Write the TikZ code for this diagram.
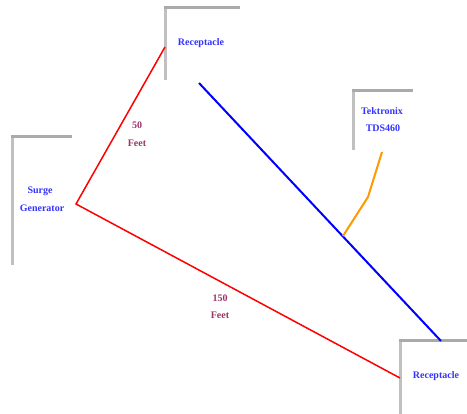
\documentclass[tikz,border=0pt]{standalone}
\usepackage{fontspec}
\setmainfont{Liberation Serif}
\definecolor{labelblue}{RGB}{51,51,255}
\definecolor{feetred}{RGB}{153,51,102}
\definecolor{framegray}{RGB}{192,192,192}
\definecolor{frametop}{RGB}{170,170,170}
\definecolor{probeorange}{RGB}{255,153,0}
\begin{document}
\begin{tikzpicture}[x=1pt, y=-1pt,
        place/.style={font=\bfseries\fontsize{10}{12}\selectfont, text=labelblue, inner sep=0pt},
        dist/.style={font=\bfseries\fontsize{10}{12}\selectfont, text=feetred, inner sep=0pt},
        side/.style={line width=3pt, framegray},
        top/.style={line width=3pt, frametop}]
        \useasboundingbox (0,0) rectangle (467,414);

        % Frames
        \draw[side] (165,8) -- (165,80);
        \draw[top] (164,8) -- (240,8);
        \draw[side] (12,137) -- (12,265);
        \draw[top] (11,137) -- (72,137);
        \draw[side] (353,91) -- (353,150);
        \draw[top] (352,91) -- (413,91);
        \draw[side] (400,341) -- (400,414);
        \draw[top] (399,341) -- (467,341);

        % Labels
        \node[place] (recA) at (201,43) {Receptacle};
        \node[place] (surge) at (40,191) {Surge};
        \node[place] (gen) at (42,208) {Generator};
        \node[place] (tek) at (382,111) {Tektronix};
        \node[place] (tds) at (383,128) {TDS460};
        \node[place] (recB) at (436,376) {Receptacle};
        \node[dist] (fifty) at (137,125) {50};
        \node[dist] (fiftyft) at (137,143) {Feet};
        \node[dist] (onefifty) at (220,298) {150};
        \node[dist] (onefiftyft) at (220,315) {Feet};

        % Cable ends
        \coordinate (src) at (76,204);
        \coordinate (inA) at (165,47);
        \coordinate (inB) at (400,378);
        \coordinate (bA) at (199,83);
        \coordinate (bB) at (441,341);
        \coordinate (probe) at (382,152);
        \coordinate (bend) at (368,197);
        \coordinate (tap) at (343,236);

        % Cables
        \draw[red, line width=1.5pt] (inA) -- (src) -- (inB);
        \draw[blue, line width=2pt] (bA) -- (bB);
        \draw[probeorange, line width=2pt] (probe) -- (bend) -- (tap);
    \end{tikzpicture}
\end{document}
